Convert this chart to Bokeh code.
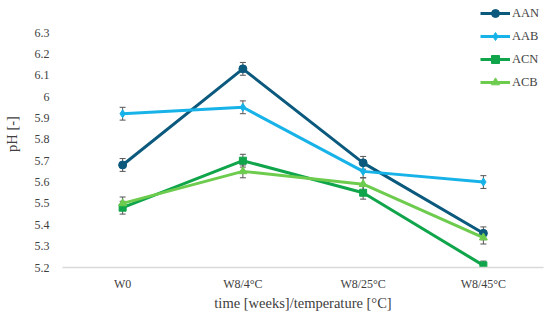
from bokeh.plotting import figure
from bokeh.models import ColumnDataSource, Whisker, FixedTicker, Legend, LegendItem, Range1d, FactorRange
from bokeh.embed import file_html
from bokeh.resources import INLINE

categories = ["W0", "W8/4°C", "W8/25°C", "W8/45°C"]
series_names = ["AAN", "AAB", "ACN", "ACB"]
aan = [5.68, 6.13, 5.69, 5.36]
aab = [5.92, 5.95, 5.65, 5.60]
acn = [5.48, 5.70, 5.55, 5.21]
acb = [5.50, 5.65, 5.59, 5.34]
aan_err = [0.03, 0.03, 0.03, 0.03]
aab_err = [0.03, 0.03, 0.03, 0.03]
acn_err = [0.03, 0.03, 0.03, 0.02]
acb_err = [0.03, 0.03, 0.03, 0.03]
y_ticks = [5.2, 5.3, 5.4, 5.5, 5.6, 5.7, 5.8, 5.9, 6.0, 6.1, 6.2, 6.3]

colors = ["#0B5A7E", "#17B3E8", "#10A54B", "#6DCC4E"]
markers = ["circle", "diamond", "square", "triangle"]
msizes = [8, 8, 7, 8]
font = "Liberation Serif"

p = figure(x_range=FactorRange(*categories, range_padding=0), y_range=Range1d(5.2, 6.45),
           frame_width=481, frame_height=267, output_backend="svg", toolbar_location=None,
           min_border_left=53, min_border_right=6, min_border_top=0, min_border_bottom=45)
p.outline_line_color = None
p.xgrid.grid_line_color = None
p.ygrid.grid_line_color = None

items = []
for name, vals, errs, c, m, s in zip(series_names, [aan, aab, acn, acb],
                                      [aan_err, aab_err, acn_err, acb_err], colors, markers, msizes):
    src = ColumnDataSource(dict(x=categories, y=vals,
                                lo=[v - e for v, e in zip(vals, errs)],
                                hi=[v + e for v, e in zip(vals, errs)]))
    r1 = p.line("x", "y", source=src, line_color=c, line_width=3)
    w = Whisker(base="x", lower="lo", upper="hi", source=src, line_color="#555555", line_width=1)
    w.upper_head.size = 6
    w.lower_head.size = 6
    w.upper_head.line_color = "#555555"
    w.lower_head.line_color = "#555555"
    p.add_layout(w)
    r2 = p.scatter("x", "y", source=src, marker=m, size=s, fill_color=c, line_color=c)
    items.append(LegendItem(label=name, renderers=[r1, r2]))

legend = Legend(items=items, location=(418, 175), label_text_font=font,
                label_text_font_size="12.5px", glyph_width=30, glyph_height=20,
                spacing=3, padding=0, margin=0, label_standoff=2,
                background_fill_alpha=0, border_line_color=None)
p.add_layout(legend)

for ax in (p.xaxis, p.yaxis):
    ax.major_tick_out = 0
    ax.major_tick_in = 0
    ax.minor_tick_out = 0
    ax.minor_tick_in = 0
    ax.major_tick_line_color = None
    ax.minor_tick_line_color = None

p.yaxis.ticker = FixedTicker(ticks=y_ticks)
p.yaxis.major_label_overrides = {5.2: "5.2", 6.0: "6"}
p.yaxis.axis_line_color = None
p.yaxis.major_label_text_font = font
p.yaxis.major_label_text_font_size = "12px"
p.yaxis.major_label_text_color = "#404040"
p.yaxis.major_label_standoff = 13
p.yaxis.axis_label = "pH [-]"
p.yaxis.axis_label_text_font = font
p.yaxis.axis_label_text_font_style = "normal"
p.yaxis.axis_label_text_font_size = "14.5px"
p.yaxis.axis_label_text_color = "#404040"
p.yaxis.axis_label_standoff = 12

p.xaxis.axis_line_color = "#D9D9D9"
p.xaxis.axis_line_width = 1.5
p.xaxis.major_label_text_font = font
p.xaxis.major_label_text_font_size = "12px"
p.xaxis.major_label_text_color = "#404040"
p.xaxis.major_label_standoff = 9
p.xaxis.axis_label = "time [weeks]/temperature [°C]"
p.xaxis.axis_label_text_font = font
p.xaxis.axis_label_text_font_style = "normal"
p.xaxis.axis_label_text_font_size = "14.5px"
p.xaxis.axis_label_text_color = "#404040"
p.xaxis.axis_label_standoff = 1

open("out.html", "w").write(file_html(p, INLINE))
